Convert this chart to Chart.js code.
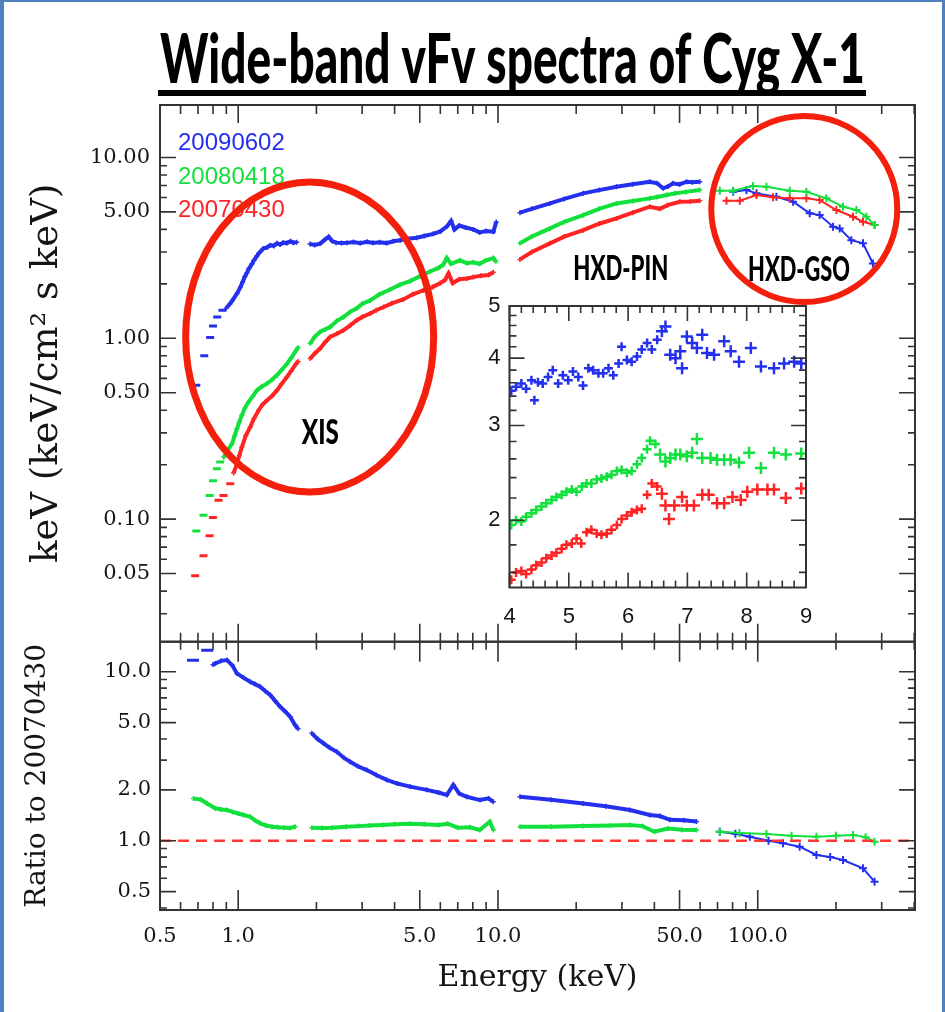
<!DOCTYPE html>
<html>
<head>
<meta charset="utf-8">
<script src="https://cdn.jsdelivr.net/npm/chart.js@4.4.1/dist/chart.umd.min.js"></script>
<style>
  html, body { margin: 0; padding: 0; background: #fff; }
  #page { position: relative; width: 945px; height: 1012px; overflow: hidden; background: #fff; }
  #page canvas { position: absolute; left: 0; top: 0; }
  #edge { position: absolute; left: 0; top: 0; width: 945px; height: 1012px; box-sizing: border-box;
          border-style: solid; border-color: #4f81bd; border-width: 2px 3px 0 4px; pointer-events: none; }
</style>
</head>
<body>
<div id="page">
  <canvas id="mainChart" width="945" height="1012"></canvas>
  <canvas id="ratioChart" width="945" height="1012"></canvas>
  <canvas id="insetChart" width="945" height="1012"></canvas>
  <div id="edge"></div>
</div>
<script>
const chartTitle = 'Wide-band vFv spectra of Cyg X-1'
const seriesNames = ['20090602', '20080418', '20070430']
const seriesColors = ['#2430ee', '#12e03c', '#ff2424']

// [energy keV, keV^2 flux]
const blueXisLow = [[0.69,0.55],[0.74,0.80],[0.78,1.01],[0.80,1.17],[0.83,1.31],[0.87,1.43]]
const blueXis = [[0.90,1.47],[0.93,1.55],[0.95,1.62],[0.99,1.77],[1.02,1.92],[1.04,2.05],[1.06,2.19],[1.08,2.30],
  [1.10,2.43],[1.13,2.58],[1.15,2.70],[1.18,2.85],[1.20,2.95],[1.23,3.06],[1.25,3.14],[1.29,3.18],[1.33,3.27],
  [1.37,3.24],[1.41,3.35],[1.45,3.30],[1.49,3.38],[1.54,3.36],[1.59,3.44],[1.63,3.38],[1.68,3.40],[1.75,null],
  [1.89,3.32],[1.97,3.28],[2.07,3.34],[2.15,3.50],[2.23,3.64],[2.30,3.45],[2.38,3.38],[2.50,3.36],[2.62,3.37],
  [2.78,3.41],[2.95,3.36],[3.13,3.42],[3.30,3.37],[3.50,3.40],[3.73,3.36],[3.95,3.44],[4.20,3.48],[4.50,3.55],
  [4.87,3.60],[5.20,3.68],[5.64,3.78],[6.00,3.90],[6.35,4.15],[6.60,4.45],[6.80,4.00],[7.10,4.20],[7.50,4.10],
  [8.03,4.00],[8.50,3.85],[9.00,3.92],[9.60,3.88],[9.85,4.40]]
const bluePin = [[12.15,4.95],[13.5,5.2],[15.85,5.57],[18,5.9],[21.3,6.33],[24.5,6.6],[28.6,6.89],[33,7.1],
  [38.4,7.34],[41,7.2],[43.2,6.75],[45,6.9],[47.2,7.2],[50,7.1],[53.2,7.34],[56,7.3],[59.8,7.34]]
const blueGso = [[80.4,6.46],[90.5,6.6],[98.9,6.33],[118,6.06],[136.8,5.69],[158.5,4.91],[173,4.8],
  [194.9,4.14],[206.7,4.05],[229.2,3.49],[254.2,3.35],[277.5,2.59]]

const greenXisLow = [[0.69,0.086],[0.735,0.105],[0.776,0.135],[0.80,0.163],[0.828,0.19],[0.853,0.207]]
const greenXis = [[0.88,0.22],[0.91,0.24],[0.946,0.261],[0.97,0.29],[0.989,0.316],[1.01,0.345],[1.033,0.375],
  [1.06,0.41],[1.095,0.444],[1.14,0.48],[1.18,0.515],[1.23,0.54],[1.289,0.561],[1.35,0.59],[1.409,0.624],
  [1.47,0.67],[1.539,0.721],[1.60,0.78],[1.671,0.858],[1.70,0.89],[1.78,null],[1.892,0.935],[1.97,1.02],
  [2.066,1.084],[2.16,1.12],[2.258,1.155],[2.40,1.25],[2.541,1.31],[2.70,1.40],[2.861,1.466],[3.0,1.55],
  [3.219,1.62],[3.50,1.75],[3.842,1.86],[4.20,1.98],[4.586,2.07],[5.0,2.20],[5.476,2.34],[5.90,2.45],
  [6.15,2.55],[6.35,2.78],[6.60,2.58],[7.14,2.70],[7.60,2.60],[8.04,2.63],[8.50,2.58],[8.91,2.68],
  [9.59,2.78],[9.82,2.66]]
const greenPin = [[12.15,3.35],[13.5,3.65],[15.85,4.05],[18,4.4],[21.3,4.8],[24.5,5.2],[28.6,5.57],[33,5.75],
  [38.4,5.94],[41,6.05],[44.6,6.2],[48,6.33],[53,6.45],[59.8,6.6]]
const greenGso = [[71.4,6.55],[80.4,6.55],[95.9,6.95],[108,6.89],[132.8,6.55],[153.9,6.46],[183.6,5.94],
  [212.9,5.34],[239.8,5.12],[261.8,4.7],[281.6,4.23]]

const redXisLow = [[0.683,0.0486],[0.735,0.0628],[0.776,0.081],[0.799,0.102],[0.84,0.127],[0.878,0.135],[0.932,0.157]]
const redXis = [[0.96,0.18],[0.989,0.202],[1.01,0.225],[1.033,0.25],[1.07,0.29],[1.112,0.323],[1.15,0.36],
  [1.197,0.399],[1.24,0.43],[1.289,0.453],[1.35,0.48],[1.409,0.515],[1.47,0.56],[1.539,0.61],[1.60,0.66],
  [1.671,0.724],[1.70,0.745],[1.78,null],[1.892,0.772],[1.98,0.83],[2.066,0.877],[2.16,0.95],[2.258,1.017],
  [2.40,1.06],[2.541,1.107],[2.70,1.18],[2.861,1.258],[3.0,1.31],[3.219,1.37],[3.40,1.43],[3.63,1.49],
  [3.90,1.56],[4.32,1.64],[4.70,1.75],[5.16,1.84],[5.60,1.92],[6.0,2.02],[6.25,2.10],[6.45,2.28],[6.70,2.02],
  [7.10,2.12],[7.60,2.14],[8.04,2.18],[8.60,2.22],[9.20,2.24],[9.59,2.32]]
const redPin = [[12.15,2.73],[13.5,3.0],[15.85,3.35],[18,3.65],[21.3,3.96],[24.5,4.3],[28.6,4.6],[33,4.95],
  [38.4,5.34],[42,5.2],[45,5.45],[50.1,5.69],[55,5.7],[59.8,5.76]]
const redGso = [[75.8,5.76],[85.3,5.76],[98.9,6.2],[114.5,6.02],[132.8,5.94],[153.9,5.94],[173,5.81],
  [200.8,5.12],[232.6,4.7],[254.2,4.41],[281.6,4.23]]

// [energy keV, ratio to 20070430]
const blueRatioLow = [[0.67,11.7],[0.76,13.4]]
const blueRatioXis = [[0.80,11.0],[0.816,11.2],[0.86,11.6],[0.905,11.73],[0.95,10.9],[0.989,9.78],[1.05,9.2],
  [1.112,8.73],[1.16,8.45],[1.215,8.15],[1.27,7.7],[1.328,7.28],[1.39,6.7],[1.45,6.21],[1.52,5.8],[1.585,5.42],
  [1.656,4.84],[1.70,4.6],[1.78,null],[1.921,4.32],[2.02,4.0],[2.13,3.77],[2.25,3.55],[2.397,3.36],[2.55,3.1],
  [2.697,2.93],[2.9,2.75],[3.126,2.62],[3.4,2.45],[3.73,2.29],[4.1,2.18],[4.587,2.09],[5.32,2.0],[5.9,1.93],
  [6.35,1.864],[6.73,2.14],[7.1,1.9],[7.58,1.82],[8.53,1.74],[9.2,1.78],[9.59,1.70]]
const blueRatioPin = [[12.15,1.82],[16,1.75],[21.3,1.66],[26,1.60],[32.2,1.52],[38.4,1.42],[42,1.40],
  [45.9,1.33],[52,1.32],[58.1,1.30]]
const blueRatioGso = [[71.4,1.13],[82,1.10],[93.2,1.056],[110,1.0],[125.1,0.965],[145,0.922],[168.2,0.823],
  [190,0.80],[212.9,0.769],[254.2,0.687],[281.6,0.572]]
const greenRatioXis = [[0.673,1.78],[0.72,1.75],[0.758,1.66],[0.816,1.555],[0.86,1.53],[0.905,1.52],[0.95,1.48],
  [1.0,1.45],[1.05,1.42],[1.112,1.387],[1.16,1.32],[1.215,1.267],[1.28,1.23],[1.35,1.21],[1.42,1.20],[1.5,1.194],
  [1.58,1.19],[1.656,1.21],[1.78,null],[1.921,1.194],[2.1,1.19],[2.3,1.194],[2.6,1.21],[2.9,1.22],[3.2,1.23],
  [3.6,1.239],[4.0,1.25],[4.59,1.26],[5.2,1.25],[5.9,1.239],[6.4,1.26],[7.0,1.194],[7.8,1.20],[8.5,1.157],
  [9.3,1.296],[9.6,1.157]]
const greenRatioPin = [[12.15,1.21],[16,1.21],[21.3,1.22],[27,1.23],[32.2,1.239],[36,1.22],[40,1.13],[45,1.18],
  [51,1.16],[58.1,1.157]]
const greenRatioGso = [[71.4,1.13],[85,1.11],[108,1.095],[135,1.07],[168.2,1.056],[200,1.07],[232.6,1.08],
  [260,1.05],[281.6,0.986]]
const ratioUnity = [[0.5,1],[403,1]]

// inset, 4-9 keV
const blueInset = [[4.03,3.48],[4.11,3.54],[4.2,3.59],[4.28,3.51],[4.37,3.64],[4.42,3.34],[4.48,3.61],[4.56,3.59],
  [4.65,3.69],[4.73,3.8],[4.82,3.59],[4.9,3.72],[4.99,3.64],[5.07,3.78],[5.16,3.69],[5.24,3.56],[5.33,3.83],
  [5.41,3.8],[5.5,3.75],[5.58,3.75],[5.67,3.83],[5.75,3.72],[5.84,3.91],[5.89,4.2],[5.98,3.97],[6.06,3.94],
  [6.15,4.03],[6.23,4.15],[6.32,4.27],[6.4,4.15],[6.49,4.33],[6.57,4.49],[6.63,4.58],[6.71,4.06],[6.8,4.0],
  [6.88,4.12],[6.91,3.83],[6.99,4.39],[7.08,4.27],[7.16,4.18],[7.25,4.42],[7.33,4.09],[7.45,4.06],[7.62,4.3],
  [7.73,4.12],[7.87,3.94],[8.07,4.18],[8.24,3.86],[8.46,3.83],[8.63,3.91],[8.8,3.94],[8.92,3.91]]
const greenInset = [[4.03,1.96],[4.11,2.0],[4.2,1.99],[4.28,2.03],[4.37,2.06],[4.45,2.09],[4.54,2.12],[4.62,2.15],
  [4.71,2.18],[4.79,2.21],[4.88,2.23],[4.96,2.26],[5.05,2.28],[5.13,2.26],[5.22,2.31],[5.3,2.34],[5.38,2.34],
  [5.47,2.38],[5.55,2.39],[5.64,2.41],[5.72,2.43],[5.81,2.47],[5.89,2.48],[5.98,2.45],[6.06,2.47],[6.15,2.54],
  [6.23,2.61],[6.32,2.71],[6.37,2.81],[6.46,2.77],[6.54,2.65],[6.63,2.57],[6.71,2.61],[6.8,2.65],[6.88,2.65],
  [6.99,2.63],[7.08,2.67],[7.16,2.83],[7.25,2.61],[7.39,2.61],[7.5,2.59],[7.62,2.59],[7.73,2.59],[7.87,2.56],
  [8.04,2.67],[8.24,2.5],[8.46,2.67],[8.66,2.65],[8.92,2.66]]
const redInset = [[4.03,1.55],[4.11,1.6],[4.2,1.61],[4.28,1.59],[4.37,1.62],[4.45,1.65],[4.54,1.67],[4.62,1.7],
  [4.71,1.72],[4.79,1.74],[4.88,1.77],[4.96,1.8],[5.05,1.81],[5.13,1.85],[5.21,1.81],[5.3,1.9],[5.38,1.92],
  [5.47,1.89],[5.55,1.88],[5.64,1.89],[5.72,1.92],[5.81,1.96],[5.89,2.01],[5.98,2.04],[6.06,2.07],[6.15,2.09],
  [6.23,2.1],[6.32,2.23],[6.4,2.34],[6.49,2.31],[6.57,2.24],[6.63,2.13],[6.69,2.01],[6.78,2.13],[6.91,2.21],
  [6.99,2.13],[7.11,2.13],[7.25,2.23],[7.36,2.23],[7.5,2.15],[7.62,2.15],[7.76,2.21],[7.9,2.18],[8.01,2.26],
  [8.18,2.28],[8.35,2.28],[8.46,2.28],[8.66,2.2],[8.92,2.29]]

const energyTicks = [0.5, 1, 5, 10, 50, 100]
const energyTickLabels = ['0.5', '1.0', '5.0', '10.0', '50.0', '100.0']
const fluxTicks = [0.05, 0.1, 0.5, 1, 5, 10]
const fluxTickLabels = ['0.05', '0.10', '0.50', '1.00', '5.00', '10.00']
const ratioTicks = [0.5, 1, 2, 5, 10]
const ratioTickLabels = ['0.5', '1.0', '2.0', '5.0', '10.0']
const insetEnergyTicks = [4, 5, 6, 7, 8, 9]
const insetFluxTicks = [2, 3, 4, 5]

Chart.defaults.color = '#151515'
Chart.defaults.font.family = '"DejaVu Serif", serif'

const serif = size => ({ family: '"DejaVu Serif", serif', size })
const sans = size => ({ family: '"Liberation Sans", Arial, sans-serif', size })

function logSteps(min, max) {
  const out = []
  for (let e = Math.floor(Math.log10(min)); e <= Math.ceil(Math.log10(max)); e++) {
    for (let d = 1; d < 10; d++) {
      const v = d * Math.pow(10, e)
      if (v > min * 1.0001 && v < max * 0.9999) out.push(v)
    }
  }
  return out
}
function linSteps(min, max, step) {
  const out = []
  for (let i = 0; min + i * step <= max + 1e-9; i++) out.push(Math.round((min + i * step) * 1000) / 1000)
  return out
}
const near = (v, list) => list.some(t => Math.abs(v - t) <= Math.abs(t) * 1e-6)

// frame + inward tick marks on all four sides
function framePlugin(cfg) {
  return {
    id: 'frame',
    afterDatasetsDraw(chart) {
      const { ctx, chartArea: a } = chart
      const xs = chart.scales.x, ys = chart.scales.y
      ctx.save()
      ctx.strokeStyle = '#333'
      ctx.lineWidth = 1.6
      ctx.beginPath()
      cfg.xAll.forEach(v => {
        const px = xs.getPixelForValue(v)
        const len = near(v, cfg.xMajor) ? cfg.xLen[0] : cfg.xLen[1]
        ctx.moveTo(px, a.bottom); ctx.lineTo(px, a.bottom - len)
        ctx.moveTo(px, a.top); ctx.lineTo(px, a.top + len)
      })
      cfg.yAll.forEach(v => {
        const py = ys.getPixelForValue(v)
        const len = near(v, cfg.yMajor) ? cfg.yLen[0] : cfg.yLen[1]
        ctx.moveTo(a.left, py); ctx.lineTo(a.left + len, py)
        ctx.moveTo(a.right, py); ctx.lineTo(a.right - len, py)
      })
      ctx.stroke()
      ctx.lineWidth = 2
      ctx.strokeRect(a.left, a.top, a.width, a.height)
      ctx.restore()
    }
  }
}

function bandSet(label, data, color) {
  return { label, data, showLine: true, borderColor: color, backgroundColor: color, borderWidth: 4,
    pointStyle: 'cross', pointRadius: 2.5, pointBorderWidth: 1.5, pointBorderColor: color, pointHitRadius: 0 }
}
function dashSet(label, data, color, r) {
  return { label, data, showLine: false, borderColor: color, backgroundColor: color,
    pointStyle: 'line', pointRadius: r, pointBorderWidth: 3, pointBorderColor: color, pointHitRadius: 0 }
}
function crossSet(label, data, color, r) {
  return { label, data, showLine: true, borderColor: color, backgroundColor: color, borderWidth: 2,
    pointStyle: 'cross', pointRadius: r, pointBorderWidth: 2, pointBorderColor: color, pointHitRadius: 0 }
}

function condensed(ctx, text, cx, baseline, size, width, align) {
  ctx.save()
  ctx.font = '900 ' + size + 'px Lato, "Liberation Sans", sans-serif'
  const w = ctx.measureText(text).width
  ctx.translate(cx, baseline)
  ctx.scale(width / w, 1)
  ctx.textAlign = align || 'center'
  ctx.textBaseline = 'alphabetic'
  ctx.fillStyle = '#000'
  ctx.fillText(text, 0, 0)
  ctx.restore()
}

const [blue, green, red] = seriesColors

const mainDecor = {
  id: 'mainDecor',
  afterDraw(chart) {
    const { ctx, chartArea: a } = chart
    condensed(ctx, chartTitle, 160, 83, 68, 705, 'left')
    ctx.save()
    ctx.fillStyle = '#000'
    ctx.fillRect(158, 90, 708, 6)
    ctx.font = '24px "Liberation Sans", Arial, sans-serif'
    ctx.textBaseline = 'alphabetic'
    seriesNames.forEach((name, i) => {
      ctx.fillStyle = seriesColors[i]
      ctx.fillText(name, a.left + 18, a.top + 45 + i * 33.5)
    })
    ctx.restore()
  }
}

const mainChart = new Chart(document.getElementById('mainChart'), {
  type: 'scatter',
  data: {
    datasets: [
      bandSet(seriesNames[0], blueXis, blue), bandSet(seriesNames[1], greenXis, green), bandSet(seriesNames[2], redXis, red),
      bandSet(seriesNames[0], bluePin, blue), bandSet(seriesNames[1], greenPin, green), bandSet(seriesNames[2], redPin, red),
      dashSet(seriesNames[0], blueXisLow, blue, 4), dashSet(seriesNames[1], greenXisLow, green, 4), dashSet(seriesNames[2], redXisLow, red, 4),
      crossSet(seriesNames[1], greenGso, green, 4), crossSet(seriesNames[2], redGso, red, 4), crossSet(seriesNames[0], blueGso, blue, 4)
    ]
  },
  options: {
    responsive: false, animation: false, events: [],
    layout: { padding: { left: 0, top: 105, right: 30, bottom: 370.3 } },
    plugins: { legend: { display: false }, tooltip: { enabled: false } },
    scales: {
      x: { type: 'logarithmic', min: 0.5, max: 403, display: false },
      y: {
        type: 'logarithmic', min: 0.021, max: 19.5,
        afterFit: s => { s.width = 160 },
        afterBuildTicks: s => { s.ticks = fluxTicks.map(v => ({ value: v })) },
        grid: { display: false, drawTicks: false }, border: { display: false },
        ticks: { callback: (v, i) => fluxTickLabels[i], padding: 10, font: serif(21), autoSkip: false },
        title: { display: true, text: 'keV (keV/cm² s keV)', font: serif(37), padding: { top: 25 } }
      }
    }
  },
  plugins: [framePlugin({
    xAll: energyTicks.concat(logSteps(0.5, 403)), xMajor: energyTicks, xLen: [18, 9],
    yAll: fluxTicks.concat(logSteps(0.021, 19.5)), yMajor: fluxTicks, yLen: [16, 7]
  }), mainDecor]
})

const ratioChart = new Chart(document.getElementById('ratioChart'), {
  type: 'scatter',
  data: {
    datasets: [
      { label: seriesNames[2], data: ratioUnity, showLine: true, borderColor: '#ff3838', borderWidth: 2.5,
        borderDash: [11, 7], pointRadius: 0 },
      bandSet(seriesNames[0], blueRatioXis, blue), bandSet(seriesNames[1], greenRatioXis, green),
      bandSet(seriesNames[0], blueRatioPin, blue), bandSet(seriesNames[1], greenRatioPin, green),
      dashSet(seriesNames[0], blueRatioLow, blue, 6),
      crossSet(seriesNames[1], greenRatioGso, green, 4), crossSet(seriesNames[0], blueRatioGso, blue, 4)
    ]
  },
  options: {
    responsive: false, animation: false, events: [],
    layout: { padding: { left: 0, top: 641.7, right: 30, bottom: 0 } },
    plugins: { legend: { display: false }, tooltip: { enabled: false } },
    scales: {
      x: {
        type: 'logarithmic', min: 0.5, max: 403,
        afterFit: s => { s.height = 102 },
        afterBuildTicks: s => { s.ticks = energyTicks.map(v => ({ value: v })) },
        grid: { display: false, drawTicks: false }, border: { display: false },
        ticks: { callback: (v, i) => energyTickLabels[i], padding: 14, font: serif(21), autoSkip: false, maxRotation: 0 },
        title: { display: true, text: 'Energy (keV)', font: serif(30), padding: { bottom: 16 } }
      },
      y: {
        type: 'logarithmic', min: 0.389, max: 15.06,
        afterFit: s => { s.width = 160 },
        afterBuildTicks: s => { s.ticks = ratioTicks.map(v => ({ value: v })) },
        grid: { display: false, drawTicks: false }, border: { display: false },
        ticks: { callback: (v, i) => ratioTickLabels[i], padding: 9, font: serif(21), autoSkip: false },
        title: { display: true, text: 'Ratio to 20070430', font: serif(28), padding: { top: 21 } }
      }
    }
  },
  plugins: [framePlugin({
    xAll: energyTicks.concat(logSteps(0.5, 403)), xMajor: energyTicks, xLen: [20, 8],
    yAll: ratioTicks.concat(logSteps(0.389, 15.06)), yMajor: ratioTicks, yLen: [16, 7]
  })]
})

const insetBack = {
  id: 'insetBack',
  beforeDraw(chart) {
    const { ctx, chartArea: a } = chart
    ctx.save()
    ctx.fillStyle = '#fff'
    ctx.fillRect(a.left, a.top, a.width, a.height)
    ctx.restore()
  }
}

// circles and instrument labels placed in the upper panel's data space
const annotations = {
  id: 'annotations',
  afterDraw(chart) {
    const ctx = chart.ctx
    const xs = mainChart.scales.x, ys = mainChart.scales.y
    ctx.save()
    ctx.strokeStyle = '#f5200c'
    ctx.lineWidth = 7
    ctx.beginPath()
    ctx.ellipse(xs.getPixelForValue(1.884), ys.getPixelForValue(1.017), 124, 155, 0, 0, Math.PI * 2)
    ctx.stroke()
    ctx.lineWidth = 6
    ctx.beginPath()
    ctx.ellipse(xs.getPixelForValue(151), ys.getPixelForValue(5.19), 93, 93, 0, 0, Math.PI * 2)
    ctx.stroke()
    ctx.restore()
    condensed(ctx, 'XIS', xs.getPixelForValue(2.07), ys.getPixelForValue(0.259), 34, 37)
    condensed(ctx, 'HXD-PIN', xs.getPixelForValue(29.7), ys.getPixelForValue(2.096), 34, 95)
    condensed(ctx, 'HXD-GSO', xs.getPixelForValue(144.2), ys.getPixelForValue(2.07), 34, 102)
  }
}

const insetCross = color => ({
  data: [], showLine: false, borderColor: color, backgroundColor: color, pointStyle: 'cross',
  pointRadius: c => (c.raw && c.raw[0] > 6.5 ? 6 : 4.5), pointBorderWidth: 2.5, pointBorderColor: color, pointHitRadius: 0
})

const insetChart = new Chart(document.getElementById('insetChart'), {
  type: 'scatter',
  data: {
    datasets: [
      Object.assign(insetCross(blue), { label: seriesNames[0], data: blueInset }),
      Object.assign(insetCross(green), { label: seriesNames[1], data: greenInset }),
      Object.assign(insetCross(red), { label: seriesNames[2], data: redInset })
    ]
  },
  options: {
    responsive: false, animation: false, events: [],
    layout: { padding: { left: 469.5, top: 306, right: 139, bottom: 384.5 } },
    plugins: { legend: { display: false }, tooltip: { enabled: false } },
    scales: {
      x: {
        type: 'linear', min: 4, max: 9,
        afterFit: s => { s.height = 40 },
        afterBuildTicks: s => { s.ticks = insetEnergyTicks.map(v => ({ value: v })) },
        grid: { display: false, drawTicks: false }, border: { display: false },
        ticks: { callback: v => String(v), padding: 16, font: sans(22), autoSkip: false, maxRotation: 0 }
      },
      y: {
        type: 'logarithmic', min: 1.5, max: 5,
        afterFit: s => { s.width = 40 },
        afterBuildTicks: s => { s.ticks = insetFluxTicks.map(v => ({ value: v })) },
        grid: { display: false, drawTicks: false }, border: { display: false },
        ticks: { callback: v => String(v), padding: 9, font: sans(22), autoSkip: false }
      }
    }
  },
  plugins: [insetBack, framePlugin({
    xAll: linSteps(4, 9, 0.2), xMajor: insetEnergyTicks, xLen: [15, 7],
    yAll: linSteps(1.6, 5, 0.2), yMajor: insetFluxTicks, yLen: [15, 7]
  }), annotations]
})
</script>
</body>
</html>
